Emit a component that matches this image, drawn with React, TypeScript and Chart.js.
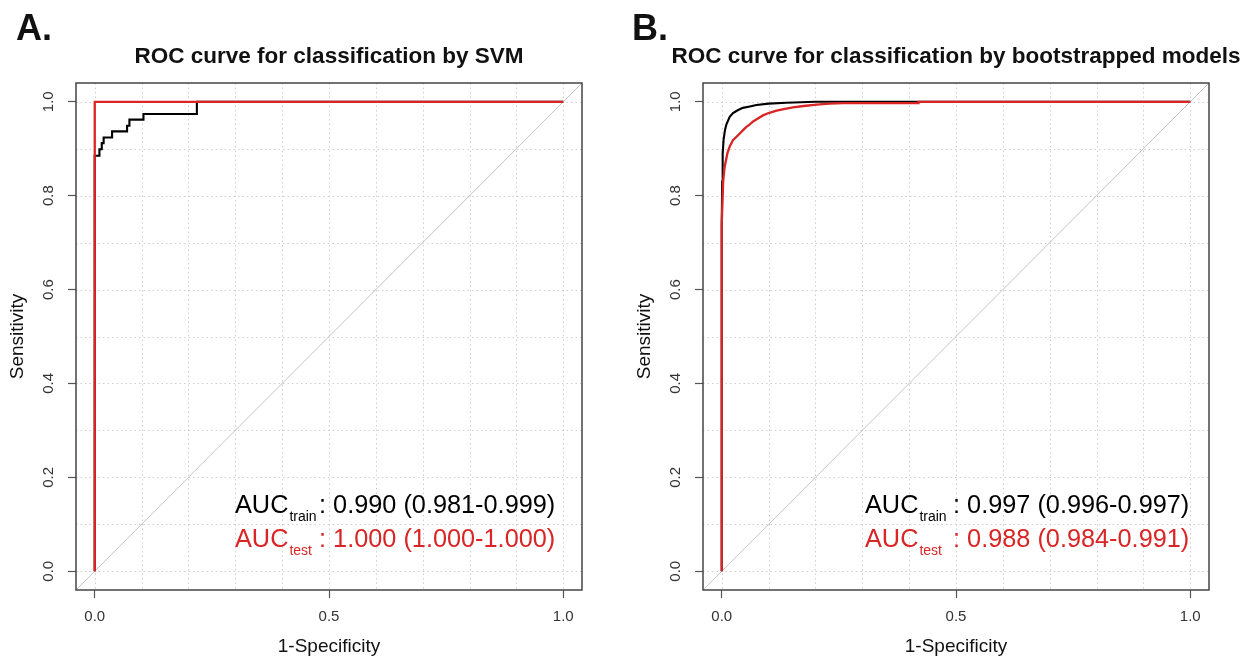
import { useEffect, useRef } from "react";
import { Chart, registerables } from "chart.js";

Chart.register(...registerables);

const FONT = '"Liberation Sans", Arial, Helvetica, sans-serif';
const RED = "#d92525";
const BLACK = "#000000";

const axisRange = [-0.04, 1.04];
const xTickValues = [0, 0.5, 1];
const yTickValues = [0, 0.2, 0.4, 0.6, 0.8, 1];
const gridValues = [0, 0.1, 0.2, 0.3, 0.4, 0.5, 0.6, 0.7, 0.8, 0.9, 1];

// Panel A: SVM
const svmTitle = "ROC curve for classification by SVM";
const svmTrainFpr = [0, 0, 0.01, 0.01, 0.015, 0.015, 0.019, 0.019, 0.037, 0.037, 0.069, 0.069, 0.074, 0.074, 0.104, 0.104, 0.218, 0.218, 1];
const svmTrainTpr = [0, 0.885, 0.885, 0.899, 0.899, 0.912, 0.912, 0.924, 0.924, 0.937, 0.937, 0.949, 0.949, 0.962, 0.962, 0.974, 0.974, 1, 1];
const svmTestFpr = [0, 0, 1];
const svmTestTpr = [0, 1, 1];
const svmAucTrain = ": 0.990 (0.981-0.999)";
const svmAucTest = ": 1.000 (1.000-1.000)";

// Panel B: bootstrapped models
const bootTitle = "ROC curve for classification by bootstrapped models";
const bootTrainFpr = [0, 0, 0.001, 0.002, 0.004, 0.007, 0.01, 0.017, 0.024, 0.034, 0.045, 0.06, 0.074, 0.1, 0.138, 0.2, 0.42, 1];
const bootTrainTpr = [0, 0.74, 0.83, 0.89, 0.92, 0.94, 0.952, 0.968, 0.976, 0.982, 0.987, 0.99, 0.993, 0.996, 0.998, 1, 1, 1];
const bootTestFpr = [0, 0, 0.003, 0.006, 0.012, 0.017, 0.024, 0.031, 0.038, 0.045, 0.052, 0.06, 0.067, 0.078, 0.088, 0.1, 0.117, 0.135, 0.152, 0.175, 0.202, 0.23, 0.26, 0.42, 0.42, 1];
const bootTestTpr = [0, 0.74, 0.83, 0.86, 0.89, 0.905, 0.918, 0.925, 0.932, 0.939, 0.946, 0.952, 0.958, 0.965, 0.971, 0.976, 0.981, 0.985, 0.988, 0.991, 0.994, 0.996, 0.997, 0.997, 1, 1];
const bootAucTrain = ": 0.997 (0.996-0.997)";
const bootAucTest = ": 0.988 (0.984-0.991)";

const toPoints = (xs: number[], ys: number[]) => xs.map((x, i) => ({ x, y: ys[i] }));

const decorPlugin = {
  id: "rocDecor",
  beforeDatasetsDraw(chart: any) {
    const { ctx, chartArea: ca, scales } = chart;
    const x = scales.x;
    const y = scales.y;
    ctx.save();
    ctx.strokeStyle = "#cfcfcf";
    ctx.lineWidth = 1;
    ctx.setLineDash([1.5, 3]);
    gridValues.forEach((v) => {
      const px = Math.round(x.getPixelForValue(v)) + 0.5;
      ctx.beginPath();
      ctx.moveTo(px, ca.top);
      ctx.lineTo(px, ca.bottom);
      ctx.stroke();
      const py = Math.round(y.getPixelForValue(v)) + 0.5;
      ctx.beginPath();
      ctx.moveTo(ca.left, py);
      ctx.lineTo(ca.right, py);
      ctx.stroke();
    });
    ctx.restore();
  },
  afterDraw(chart: any, _args: any, opts: any) {
    const { ctx, chartArea: ca, scales } = chart;
    const y = scales.y;
    ctx.save();
    // box
    ctx.strokeStyle = "#444";
    ctx.lineWidth = 1.5;
    ctx.strokeRect(ca.left, ca.top, ca.right - ca.left, ca.bottom - ca.top);
    // rotated y tick labels
    ctx.fillStyle = "#333";
    ctx.font = `15px ${FONT}`;
    ctx.textAlign = "center";
    ctx.textBaseline = "middle";
    y.ticks.forEach((t: any) => {
      const py = y.getPixelForValue(t.value);
      ctx.save();
      ctx.translate(ca.left - 27, py);
      ctx.rotate(-Math.PI / 2);
      ctx.fillText(Number(t.value).toFixed(1), 0, 0);
      ctx.restore();
    });
    // chart title, centred on the plot box
    ctx.fillStyle = "#111";
    ctx.font = `bold 22.5px ${FONT}`;
    ctx.textAlign = "center";
    ctx.textBaseline = "middle";
    ctx.fillText(opts.title, (ca.left + ca.right) / 2, 56.5);
    // panel letter
    ctx.font = `bold 36px ${FONT}`;
    ctx.textAlign = "left";
    ctx.textBaseline = "alphabetic";
    ctx.fillText(opts.letter, opts.letterX, 40);
    // AUC text
    const L = ca.left + opts.aucLeft;
    opts.lines.forEach((ln: any, i: number) => {
      const base = 513 + i * 34;
      ctx.fillStyle = ln.color;
      ctx.font = `25.3px ${FONT}`;
      ctx.fillText("AUC", L, base);
      const w = ctx.measureText("AUC").width;
      ctx.font = `14px ${FONT}`;
      ctx.fillText(ln.sub, L + w + 1, base + 8);
      ctx.font = `25.3px ${FONT}`;
      ctx.fillText(ln.text, L + opts.colonOffset, base);
    });
    ctx.restore();
  },
};

function Panel(props: any) {
  const ref = useRef<HTMLCanvasElement | null>(null);
  useEffect(() => {
    if (!ref.current) return;
    const chart = new Chart(ref.current, {
      type: "scatter",
      data: {
        datasets: [
          {
            data: toPoints(props.testFpr, props.testTpr),
            showLine: true,
            borderColor: RED,
            borderWidth: 2.3,
            pointRadius: 0,
          },
          {
            data: toPoints(props.trainFpr, props.trainTpr),
            showLine: true,
            borderColor: BLACK,
            borderWidth: 2.1,
            pointRadius: 0,
          },
          {
            data: toPoints(axisRange, axisRange),
            showLine: true,
            borderColor: "#c4c4c4",
            borderWidth: 1,
            pointRadius: 0,
          },
        ],
      },
      options: {
        animation: false,
        responsive: false,
        events: [],
        layout: { padding: { left: 0, right: 45, top: 83, bottom: 0 } },
        plugins: {
          legend: { display: false },
          tooltip: { enabled: false },
          title: { display: false },
          rocDecor: {
            title: props.title,
            letter: props.letter,
            letterX: props.letterX,
            aucLeft: props.aucLeft,
            colonOffset: props.colonOffset,
            lines: [
              { sub: "train", text: props.aucTrain, color: BLACK },
              { sub: "test", text: props.aucTest, color: RED },
            ],
          },
        } as any,
        scales: {
          x: {
            type: "linear",
            min: axisRange[0],
            max: axisRange[1],
            afterBuildTicks: (s: any) => {
              s.ticks = xTickValues.map((v) => ({ value: v }));
            },
            afterFit: (s: any) => {
              s.height = 73;
            },
            border: { display: false },
            grid: { drawOnChartArea: false, drawTicks: true, tickLength: 8, tickColor: "#555", tickWidth: 1.2 },
            ticks: {
              color: "#333",
              font: { family: FONT, size: 15 },
              padding: 10,
              maxRotation: 0,
              autoSkip: false,
              callback: (v: any) => Number(v).toFixed(1),
            },
            title: {
              display: true,
              text: "1-Specificity",
              color: "#111",
              font: { family: FONT, size: 19, lineHeight: 1.2 },
              padding: { top: 0, bottom: 4.6 },
            },
          },
          y: {
            type: "linear",
            min: axisRange[0],
            max: axisRange[1],
            afterBuildTicks: (s: any) => {
              s.ticks = yTickValues.map((v) => ({ value: v }));
            },
            afterFit: (s: any) => {
              s.width = 76;
            },
            border: { display: false },
            grid: { drawOnChartArea: false, drawTicks: true, tickLength: 8, tickColor: "#555", tickWidth: 1.2 },
            ticks: { display: false },
            title: {
              display: true,
              text: "Sensitivity",
              color: "#111",
              font: { family: FONT, size: 19, lineHeight: 1.2 },
              padding: { top: 6.6, bottom: 0 },
            },
          },
        },
      },
      plugins: [decorPlugin as any],
    });
    return () => chart.destroy();
  }, []);
  return (
    <canvas
      ref={ref}
      width={627}
      height={663}
      style={{ position: "absolute", left: props.left, top: 0, display: "block" }}
    />
  );
}

export default function App() {
  return (
    <div style={{ position: "absolute", left: 0, top: 0, width: 1255, height: 663, background: "#fff" }}>
      <Panel
        left={0}
        letter="A."
        letterX={16}
        title={svmTitle}
        trainFpr={svmTrainFpr}
        trainTpr={svmTrainTpr}
        testFpr={svmTestFpr}
        testTpr={svmTestTpr}
        aucTrain={svmAucTrain}
        aucTest={svmAucTest}
        aucLeft={159}
        colonOffset={84}
      />
      <Panel
        left={627}
        letter="B."
        letterX={5}
        title={bootTitle}
        trainFpr={bootTrainFpr}
        trainTpr={bootTrainTpr}
        testFpr={bootTestFpr}
        testTpr={bootTestTpr}
        aucTrain={bootAucTrain}
        aucTest={bootAucTest}
        aucLeft={162}
        colonOffset={88}
      />
    </div>
  );
}
